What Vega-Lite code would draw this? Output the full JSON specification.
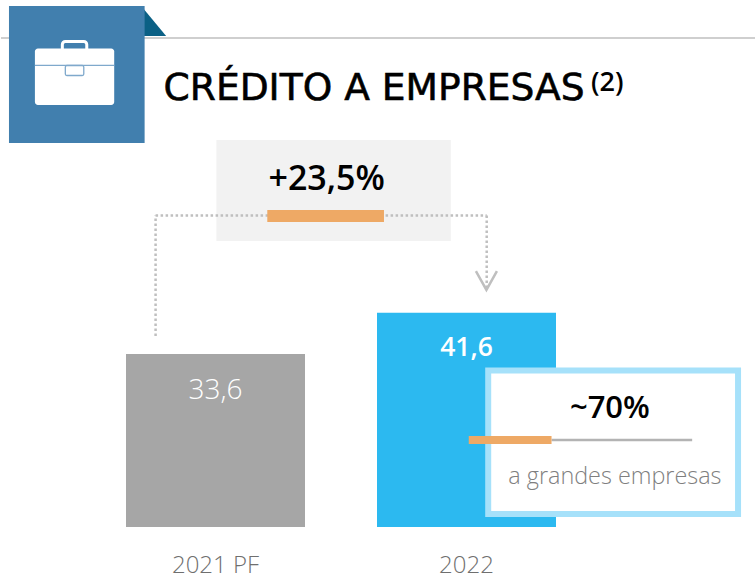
{
"$schema":"https://vega.github.io/schema/vega-lite/v6.json",
"width":756,"height":579,"padding":0,
"autosize":{"type":"fit","contains":"padding"},
"background":"#ffffff",
"config":{"view":{"stroke":null},"axisQuantitative":{"disable":true},
"locale":{"number":{"decimal":",","thousands":".","grouping":[3],"currency":["","€"]}}},
"resolve":{"scale":{"x":"independent","y":"independent"}},
"layer":[
{"data":{"values":[{"ano":"2021 PF","valor":33.6},{"ano":"2022","valor":41.6}]},
 "encoding":{
  "x":{"field":"ano","type":"nominal","title":null,"sort":null,
   "scale":{"domain":["2021 PF","2022"],"range":[89,591],"paddingInner":0.2869,"paddingOuter":0.14345},
   "axis":{"orient":"bottom","offset":-9,"domain":false,"ticks":false,"grid":false,"labelAngle":0,"labelPadding":2,"labelFontSize":24,"labelColor":"#6F6F6F","labelFont":"Open Sans","labelFontWeight":300,"labelBaseline":"alphabetic"}},
  "y":{"field":"valor","type":"quantitative","title":null,"scale":{"domain":[-10.1,102.33],"nice":false,"zero":false}}},
 "layer":[
  {"mark":{"type":"bar","width":179},"encoding":{"color":{"field":"ano","type":"nominal","legend":null,"scale":{"domain":["2021 PF","2022"],"range":["#A6A6A6","#2CB9F0"]}}}},
  {"transform":[{"filter":"datum.ano==='2021 PF'"}],"mark":{"type":"text","dy":45,"fontSize":28,"font":"Open Sans","fontWeight":300,"color":"#ffffff","baseline":"alphabetic"},"encoding":{"text":{"field":"valor","type":"quantitative","format":".1f"}}},
  {"transform":[{"filter":"datum.ano==='2022'"}],"mark":{"type":"text","dy":43,"fontSize":26.5,"font":"Open Sans","fontWeight":600,"color":"#ffffff","baseline":"alphabetic"},"encoding":{"text":{"field":"valor","type":"quantitative","format":".1f"}}}
 ]},
{"data":{"values":[{}]},
 "layer":[
  {"mark":{"type":"rule","color":"#A0A0A0","strokeWidth":1.2},"encoding":{
    "x":{"datum":0,"scale":{"domain":[0,756],"nice":false,"zero":false}},"x2":{"datum":756},
    "y":{"datum":38,"scale":{"domain":[0,579],"reverse":true,"nice":false,"zero":false}}}},
  {"mark":{"type":"point","shape":"M-0.83,-1L0.83,1L-0.83,1Z","filled":true,"opacity":1,"size":841,"color":"#0B6085","strokeWidth":0},"encoding":{"x":{"datum":153.5},"y":{"datum":21.5}}},
  {"mark":{"type":"rect","color":"#417FAE"},"encoding":{"x":{"datum":8},"x2":{"datum":144},"y":{"datum":6},"y2":{"datum":143}}},
  {"mark":{"type":"rect","fill":"#417FAE","stroke":"#ffffff","strokeWidth":3,"cornerRadius":3},"encoding":{"x":{"datum":61.5},"x2":{"datum":86},"y":{"datum":41.5},"y2":{"datum":54}}},
  {"mark":{"type":"rect","color":"#ffffff","cornerRadius":3},"encoding":{"x":{"datum":34},"x2":{"datum":113.5},"y":{"datum":48.5},"y2":{"datum":105}}},
  {"mark":{"type":"rect","color":"#7FA9CC"},"encoding":{"x":{"datum":34},"x2":{"datum":113.5},"y":{"datum":64.7},"y2":{"datum":66}}},
  {"mark":{"type":"rect","fill":"#ffffff","stroke":"#7FA9CC","strokeWidth":1.3,"cornerRadius":1.5},"encoding":{"x":{"datum":64.5},"x2":{"datum":83},"y":{"datum":65.5},"y2":{"datum":75.5}}},
  {"mark":{"type":"text","text":"CRÉDITO A EMPRESAS","align":"left","baseline":"alphabetic","font":"DejaVu Sans","fontWeight":400,"fontSize":37.6,"stroke":"#000000","strokeWidth":0.6,"color":"#000000"},"encoding":{"x":{"datum":163},"y":{"datum":100}}},
  {"mark":{"type":"text","text":"(2)","align":"left","baseline":"alphabetic","font":"Open Sans","fontWeight":600,"fontSize":27,"color":"#000000"},"encoding":{"x":{"datum":591.5},"y":{"datum":91}}},
  {"mark":{"type":"rect","color":"#F2F2F2"},"encoding":{"x":{"datum":216},"x2":{"datum":451},"y":{"datum":140},"y2":{"datum":241}}},
  {"mark":{"type":"rule","color":"#BFBFBF","strokeWidth":2.5,"strokeDash":[2.5,2.5]},"encoding":{"x":{"datum":155},"y":{"datum":336},"y2":{"datum":215.5}}},
  {"mark":{"type":"rule","color":"#BFBFBF","strokeWidth":2.5,"strokeDash":[2.5,2.5]},"encoding":{"x":{"datum":155},"x2":{"datum":487},"y":{"datum":215.5}}},
  {"mark":{"type":"rule","color":"#BFBFBF","strokeWidth":2.5,"strokeDash":[2.5,2.5]},"encoding":{"x":{"datum":487},"y":{"datum":215.5},"y2":{"datum":287}}},
  {"mark":{"type":"point","shape":"M-1,-0.9L0,0.9L1,-0.9","filled":false,"opacity":1,"size":441,"color":"#BFBFBF","strokeWidth":2.5},"encoding":{"x":{"datum":486.7},"y":{"datum":280.5}}},
  {"mark":{"type":"rect","color":"#EEA965"},"encoding":{"x":{"datum":267},"x2":{"datum":384},"y":{"datum":210},"y2":{"datum":222}}},
  {"mark":{"type":"text","text":"+23,5%","align":"center","baseline":"alphabetic","font":"Open Sans","fontWeight":600,"fontSize":34,"color":"#000000"},"encoding":{"x":{"datum":326.5},"y":{"datum":190}}},
  {"mark":{"type":"rect","fill":"#ffffff","stroke":"#A6E1FA","strokeWidth":6},"encoding":{"x":{"datum":488.5},"x2":{"datum":739},"y":{"datum":370.5},"y2":{"datum":514}}},
  {"mark":{"type":"rule","color":"#B3B3B3","strokeWidth":2.5},"encoding":{"x":{"datum":552},"x2":{"datum":693},"y":{"datum":440}}},
  {"mark":{"type":"rect","color":"#EEA965"},"encoding":{"x":{"datum":469},"x2":{"datum":552},"y":{"datum":436},"y2":{"datum":444}}},
  {"mark":{"type":"text","text":"~70%","align":"center","baseline":"alphabetic","font":"Open Sans","fontWeight":600,"fontSize":31,"color":"#000000"},"encoding":{"x":{"datum":610.5},"y":{"datum":418}}},
  {"mark":{"type":"text","text":"a grandes empresas","align":"center","baseline":"alphabetic","font":"Open Sans","fontWeight":300,"fontSize":23.4,"color":"#7F7F7F"},"encoding":{"x":{"datum":615.5},"y":{"datum":484}}}
 ]}
]}
